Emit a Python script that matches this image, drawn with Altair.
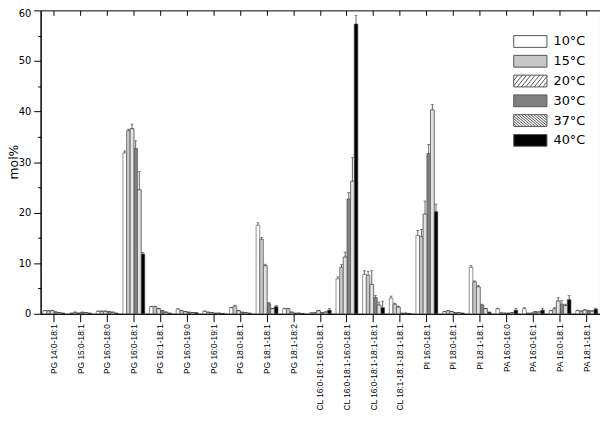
import altair as alt
import pandas as pd

categories = [
    "PG 14:0-18:1", "PG 15:0-18:1", "PG 16:0-18:0", "PG 16:0-18:1", "PG 16:1-18:1",
    "PG 16:0-19:0", "PG 16:0-19:1", "PG 18:0-18:1", "PG 18:1-18:1", "PG 18:1-18:2",
    "CL 16:0-16:1-16:0-18:1", "CL 16:0-18:1-16:0-18:1", "CL 16:0-18:1-18:1-18:1",
    "CL 18:1-18:1-18:1-18:1", "PI 16:0-18:1", "PI 18:0-18:1", "PI 18:1-18:1",
    "PA 16:0-16:0", "PA 16:0-16:1", "PA 16:0-18:1", "PA 18:1-18:1",
]
temps = ["10°C", "15°C", "20°C", "30°C", "37°C", "40°C"]

v10 = [0.6, 0.1, 0.5, 31.8, 1.4, 0.9, 0.5, 1.2, 17.5, 1.0, 0.15, 6.9, 7.8, 3.1, 15.5, 0.4, 9.2, 1.0, 1.0, 0.6, 0.6]
v15 = [0.6, 0.3, 0.5, 36.2, 1.4, 0.6, 0.3, 1.5, 14.7, 1.0, 0.2, 9.2, 7.6, 1.9, 15.3, 0.6, 6.3, 0.15, 0.1, 1.0, 0.5]
v20 = [0.6, 0.1, 0.5, 36.6, 1.0, 0.4, 0.2, 0.6, 9.5, 0.3, 0.6, 11.2, 5.8, 1.3, 19.7, 0.4, 5.3, 0.1, 0.1, 2.5, 0.7]
v30 = [0.35, 0.3, 0.4, 32.7, 0.6, 0.3, 0.1, 0.3, 2.0, 0.1, 0.2, 22.7, 3.2, 0.1, 31.7, 0.2, 1.7, 0.1, 0.4, 1.9, 0.6]
v37 = [0.2, 0.2, 0.3, 24.5, 0.3, 0.2, 0.1, 0.2, 1.0, 0.1, 0.3, 26.2, 1.7, 0.1, 40.3, 0.2, 1.0, 0.2, 0.3, 1.6, 0.5]
v40 = [0.1, 0.1, 0.1, 11.8, 0.1, 0.2, 0.05, 0.1, 1.4, 0.05, 0.7, 57.3, 1.2, 0.05, 20.2, 0.1, 0.3, 0.7, 0.7, 2.8, 0.9]

e10 = [0.05, 0.05, 0.05, 0.4, 0.1, 0.1, 0.05, 0.1, 0.5, 0.1, 0.05, 0.4, 0.7, 0.4, 1.0, 0.05, 0.3, 0.1, 0.2, 0.1, 0.1]
e15 = [0.05, 0.05, 0.05, 0.3, 0.1, 0.1, 0.05, 0.2, 0.4, 0.1, 0.05, 0.5, 0.8, 0.2, 1.4, 0.05, 0.2, 0.05, 0.05, 0.2, 0.1]
e20 = [0.05, 0.05, 0.05, 0.9, 0.1, 0.05, 0.05, 0.1, 0.3, 0.05, 0.1, 1.0, 2.7, 0.2, 2.6, 0.05, 0.3, 0.05, 0.05, 0.7, 0.1]
e30 = [0.05, 0.05, 0.05, 1.5, 0.05, 0.05, 0.05, 0.05, 0.2, 0.05, 0.05, 1.3, 0.4, 0.05, 1.8, 0.05, 0.2, 0.05, 0.1, 0.7, 0.1]
e37 = [0.05, 0.05, 0.05, 3.6, 0.05, 0.05, 0.05, 0.05, 0.1, 0.05, 0.1, 4.7, 0.6, 0.05, 1.1, 0.05, 0.1, 0.05, 0.1, 0.3, 0.1]
e40 = [0.05, 0.05, 0.05, 0.3, 0.05, 0.05, 0.05, 0.05, 0.2, 0.05, 0.3, 1.7, 1.3, 0.05, 1.5, 0.05, 0.05, 0.4, 0.4, 0.8, 0.2]

values = dict(zip(temps, [v10, v15, v20, v30, v37, v40]))
errors = dict(zip(temps, [e10, e15, e20, e30, e37, e40]))

rows = []
for t in temps:
    for c, v, e in zip(categories, values[t], errors[t]):
        rows.append({"cat": c, "temp": t, "value": v, "top": v + e})
df = pd.DataFrame(rows)

FONT = "DejaVu Sans"
XFONT = "Liberation Sans"
W, H = 2.4, 0.85


def rect_path():
    return f"M{-W},{-H}L{W},{-H}L{W},{H}L{-W},{H}Z"


def hatch_path(direction, spacing, slope):
    segs = []
    c = -W - H * slope - spacing
    while c <= W + H * slope + spacing:
        if direction < 0:
            lo, hi = (c - W) / slope, (c + W) / slope
        else:
            lo, hi = (-W - c) / slope, (W - c) / slope
        a, b = max(lo, -H), min(hi, H)
        if b - a > 1e-3:
            x1 = c + direction * slope * a
            x2 = c + direction * slope * b
            segs.append(f"M{x1:.3f},{a:.3f}L{x2:.3f},{b:.3f}")
        c += spacing
    return rect_path() + "".join(segs)


shapes = [rect_path(), rect_path(), hatch_path(-1, 0.62, 0.8), rect_path(),
          hatch_path(1, 0.45, 1.2), rect_path()]
fills = ["#ffffff", "#c8c8c8", "#ffffff", "#808080", "#ffffff", "#000000"]

fill_scale = alt.Scale(domain=temps, range=fills)
shape_scale = alt.Scale(domain=temps, range=shapes)
stroke_scale = alt.Scale(domain=temps, range=["#555555"] * 6)
y_scale = alt.Scale(domain=[0, 60], nice=False)

x_bottom = alt.X(
    "cat:N", sort=categories, title=None,
    scale=alt.Scale(domain=categories, paddingInner=0.18, paddingOuter=0.09),
    axis=alt.Axis(labelAngle=-90, labelFont=XFONT, labelFontSize=8.5, labelColor="black",
                  tickSize=8, tickColor="black", domainColor="black", labelPadding=2),
)
x_top = alt.X(
    "cat:N", sort=categories, title=None,
    axis=alt.Axis(orient="top", labels=False, domain=False, tickSize=5, offset=-5,
                  tickColor="black", tickWidth=1),
)
x_none = alt.X("cat:N", sort=categories, title=None, axis=None)
xoff = alt.XOffset("temp:N", sort=temps, scale=alt.Scale(domain=temps))

y_axis = alt.Axis(
    values=list(range(0, 61, 5)),
    labelExpr="datum.value % 10 == 0 ? datum.label : ''",
    tickSize={"condition": {"test": "datum.value % 10 != 0", "value": 3}, "value": 7},
    labelOffset={"condition": {"test": "datum.value == 60", "value": 3}, "value": 0},
    tickColor="black", domainColor="black", labelColor="black",
    labelFont=FONT, labelFontSize=10, labelPadding=3,
    title="mol%", titleFont=FONT, titleFontSize=12.5, titleFontWeight="normal",
    titleColor="black", titleX=-27, titleY=153, titleAngle=-90,
    titleAlign="center", titleBaseline="middle",
)


def yv(field="value"):
    return alt.Y(f"{field}:Q", scale=y_scale, axis=y_axis, title="mol%")


legend = alt.Legend(title=None, orient="none", legendX=488, legendY=24)

bars = alt.Chart(df).mark_bar(stroke="#444", strokeWidth=0.6).encode(
    x=x_bottom, xOffset=xoff, y=yv(),
    fill=alt.Fill("temp:N", sort=temps, scale=fill_scale, legend=legend),
)

hatched = alt.Chart(df).transform_filter(
    alt.FieldOneOfPredicate(field="temp", oneOf=["20°C", "37°C"])
).mark_bar(fill="#e2e2e2", stroke="#444", strokeWidth=0.6).encode(
    x=x_none, xOffset=xoff, y=yv(),
)

err = alt.Chart(df).mark_rule(color="#222", strokeWidth=0.7).encode(
    x=x_top, xOffset=xoff, y=yv(), y2="top:Q",
)

caps = alt.Chart(df).mark_tick(color="#222", thickness=0.7, size=3).encode(
    x=x_none, xOffset=xoff, y=yv("top"),
)

legend_pts = alt.Chart(df).mark_point(filled=True, opacity=0).encode(
    x=x_none, xOffset=xoff, y=yv(),
    fill=alt.Fill("temp:N", sort=temps, scale=fill_scale, legend=legend),
    shape=alt.Shape("temp:N", sort=temps, scale=shape_scale, legend=legend),
    stroke=alt.Stroke("temp:N", sort=temps, scale=stroke_scale, legend=legend),
)

chart = alt.layer(bars, hatched, err, caps, legend_pts).resolve_axis(
    x="independent"
).properties(
    width=566, height=307,
    autosize=alt.AutoSizeParams(type="none"),
    padding={"left": 33, "top": 0, "right": 0, "bottom": 98},
).configure_view(stroke="black", strokeWidth=1).configure_axis(grid=False).configure_legend(
    labelFont=FONT, labelFontSize=13, labelColor="black", symbolSize=196,
    symbolStrokeWidth=1, labelOffset=16, padding=0,
    rowPadding=3, symbolOpacity=1,
)

chart.save("out.html", embed_options={"renderer": "svg", "actions": False})
